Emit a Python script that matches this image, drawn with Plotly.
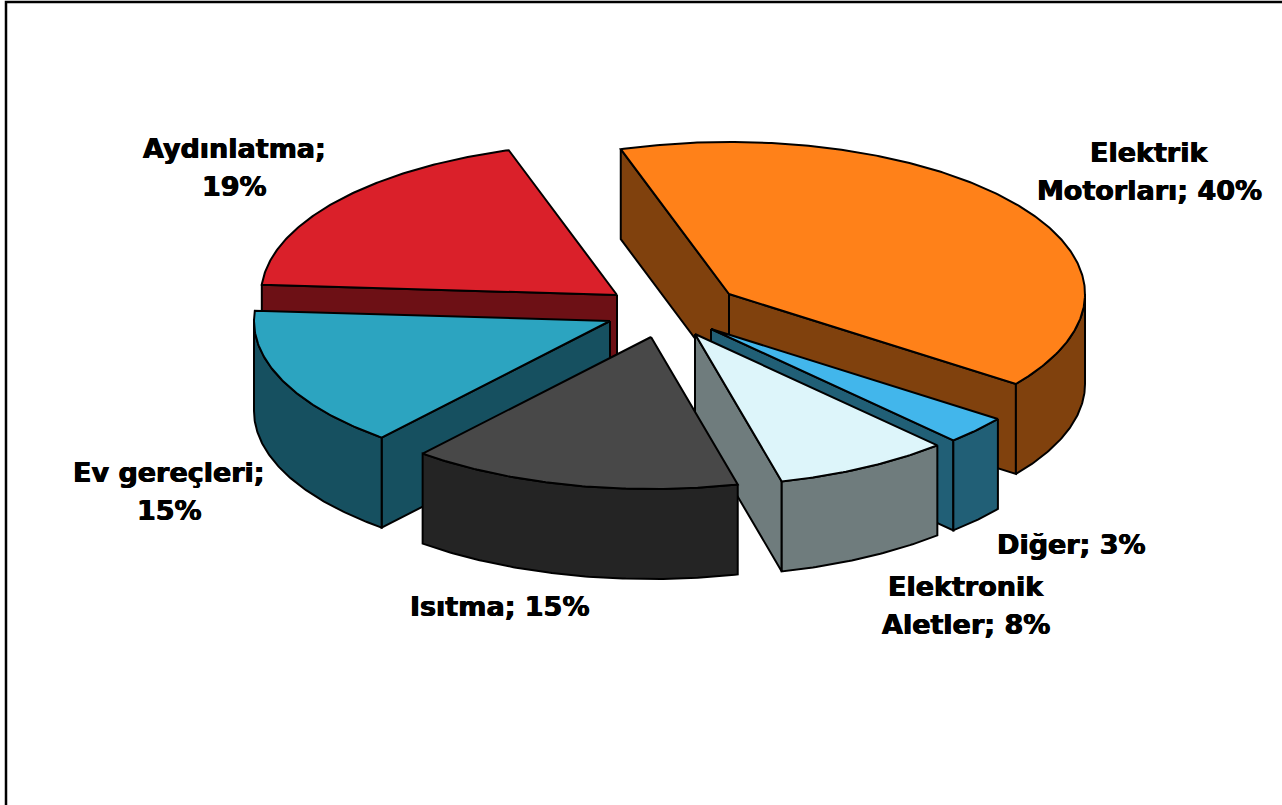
import numpy as np
import plotly.graph_objects as go

# Shares of electricity use by category, clockwise from the first slice
NAMES = ["Elektrik<br>Motorları", "Diğer", "Elektronik<br>Aletler", "Isıtma", "Ev gereçleri", "Aydınlatma"]
SHARES = [40, 3, 8, 15, 15, 19]
SEPARATORS = ["; ", "; ", "; ", "; ", ";<br>", ";<br>"]

TOP_COLORS = ["#FF8119", "#42B6EB", "#DDF5FA", "#484848", "#2CA4C0", "#DA202A"]
SIDE_COLORS = ["#80410D", "#215F76", "#6F7C7D", "#242424", "#165060", "#6D1015"]

# Projection of the tilted disc, in screen pixels
RX, RY, DEPTH = 356, 152, 90
START_ANGLE = -17.7
CENTRE = (669, 312)
PULL = [(60, -18), (42, 17), (26, 22), (-18, 25), (-59, 9), (-52, -17)]
# Back-to-front painting order
PAINT_ORDER = [0, 5, 4, 1, 2, 3]
LABEL_POS = [(1149, 171), (1071, 544), (966, 605), (499, 606), (169, 491), (234, 167)]
LINE_STEP = 38
FONT = "DejaVu Sans, Verdana, sans-serif"


def arc(apex, a0, a1, dy=0.0):
    t = np.radians(np.linspace(a0, a1, max(int(abs(a1 - a0)) * 2, 2)))
    return apex[0] + RX * np.sin(t), apex[1] - RY * np.cos(t) + dy


def face(fig, xs, ys, color):
    fig.add_trace(go.Scatter(
        x=list(xs) + [xs[0]], y=list(ys) + [ys[0]], mode="lines", fill="toself",
        fillcolor=color, line=dict(color="black", width=2), hoverinfo="skip",
        showlegend=False,
    ))


def radial_wall(fig, apex, angle, color):
    ox, oy = arc(apex, angle, angle)
    ox, oy = ox[0], oy[0]
    face(fig, [apex[0], ox, ox, apex[0]], [apex[1], oy, oy + DEPTH, apex[1] + DEPTH], color)


def facing_viewer(angle, clockwise_side):
    # Wall normal is the radial direction turned by a quarter circle
    normal = angle + (90 if clockwise_side else -90)
    return -np.cos(np.radians(normal)) > 0


fractions = np.array(SHARES) / sum(SHARES)
ends = START_ANGLE + 360 * np.cumsum(fractions)
starts = ends - 360 * fractions

fig = go.Figure()
for i in PAINT_ORDER:
    a0, a1 = starts[i], ends[i]
    apex = (CENTRE[0] + PULL[i][0], CENTRE[1] + PULL[i][1])
    if facing_viewer(a0, False):
        radial_wall(fig, apex, a0, SIDE_COLORS[i])
    if facing_viewer(a1, True):
        radial_wall(fig, apex, a1, SIDE_COLORS[i])
    # Outer rim, only the part on the near half of the ellipse
    lo, hi = max(a0, 90), min(a1, 270)
    if hi > lo:
        xt, yt = arc(apex, lo, hi)
        xb, yb = arc(apex, hi, lo, DEPTH)
        face(fig, np.r_[xt, xb], np.r_[yt, yb], SIDE_COLORS[i])
    xa, ya = arc(apex, a0, a1)
    face(fig, np.r_[apex[0], xa], np.r_[apex[1], ya], TOP_COLORS[i])

for name, share, sep, (lx, ly) in zip(NAMES, SHARES, SEPARATORS, LABEL_POS):
    lines = f"{name}{sep}{share}%".split("<br>")
    for k, line in enumerate(lines):
        fig.add_annotation(
            x=lx, y=ly + (k - (len(lines) - 1) / 2) * LINE_STEP, text=f"<b>{line}</b>",
            showarrow=False,
            font=dict(family=FONT, size=27, color="black",
                      shadow="0.5px 0 0 #000, -0.5px 0 0 #000"),
        )

fig.update_layout(
    width=1282, height=805, margin=dict(l=0, r=0, t=0, b=0),
    paper_bgcolor="white", plot_bgcolor="white", showlegend=False,
    xaxis=dict(range=[0, 1282], visible=False, fixedrange=True),
    yaxis=dict(range=[805, 0], visible=False, fixedrange=True),
    shapes=[dict(type="path", path="M 6 805 L 6 2 L 1282 2", line=dict(color="black", width=2.5))],
)
fig.write_html("out.html")
